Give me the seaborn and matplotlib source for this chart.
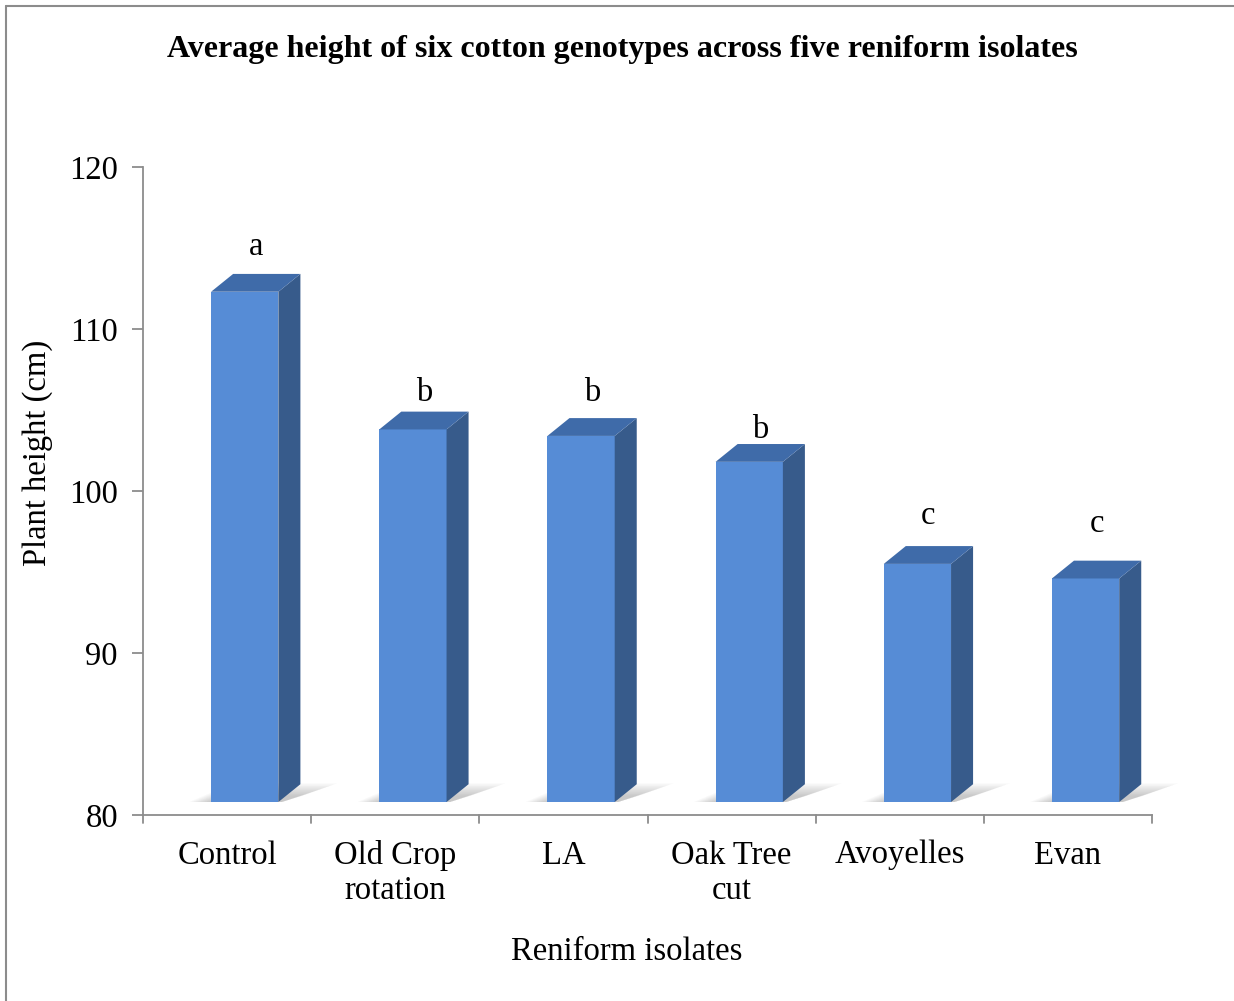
import matplotlib
matplotlib.use("Agg")
import matplotlib.pyplot as plt
from matplotlib.patches import Polygon
from matplotlib.lines import Line2D
import seaborn as sns
import pandas as pd

# Mean plant height (cm) per reniform isolate, with mean-separation letters
isolates = ["Control", "Old Crop\nrotation", "LA", "Oak Tree\ncut", "Avoyelles", "Evan"]
height_cm = [112.3, 103.8, 103.4, 101.8, 95.5, 94.6]
letters = ["a", "b", "b", "b", "c", "c"]
y_ticks = [80, 90, 100, 110, 120]

# where each letter sits (height on the y scale)
letter_y = [115.1, 106.05, 106.05, 103.8, 98.45, 98.0]

df = pd.DataFrame({"isolate": isolates, "height": height_cm})

sns.set_theme(style="white")
plt.rcParams["font.family"] = ["Liberation Serif", "DejaVu Serif"]
plt.rcParams["text.color"] = "black"
plt.rcParams["axes.labelcolor"] = "black"
plt.rcParams["xtick.color"] = "black"
plt.rcParams["ytick.color"] = "black"

FRONT = "#568cd6"
SIDE = "#375b8b"
TOP = "#3f6ba9"
FS = 23.5

fig = plt.figure(figsize=(12.34, 10.01), dpi=100)
ax = fig.add_axes([143 / 1234, 1 - 815 / 1001, (1152 - 143) / 1234, (815 - 167) / 1001])

sns.barplot(data=df, x="isolate", y="height", color=FRONT, width=0.4,
            saturation=1, ax=ax, zorder=3, linewidth=0)

ax.set_ylim(80, 120)
ax.set_xlim(-0.5, len(isolates) - 0.5)

floor = 80.8      # base of the bars sits slightly above the axis floor
shift = 0.105     # front faces are offset to the right within each slot
dx, dy = 0.131, 1.1  # depth of the 3-D extrusion (data units)

for i, (patch, val) in enumerate(zip(ax.patches, height_cm)):
    x0 = patch.get_x() + shift
    w = patch.get_width()
    patch.set_x(x0)
    patch.set_y(floor)
    patch.set_height(val - floor)
    x1 = x0 + w
    # soft floor shadow, built from stacked translucent layers
    n = 10
    for k in range(n):
        s = 1 - k / n
        ax.add_patch(Polygon([(x0 - 0.13 * s, floor), (x1 + 0.02, floor),
                              (x1 + dx + 0.22 * s, floor + dy * (0.3 + 0.75 * s)),
                              (x0 + dx, floor + dy * (0.3 + 0.75 * s))],
                             closed=True, facecolor="#444444", alpha=0.03,
                             edgecolor="none", zorder=2, clip_on=False))
    # side face
    ax.add_patch(Polygon([(x1, floor), (x1 + dx, floor + dy),
                          (x1 + dx, val + dy), (x1, val)],
                         closed=True, facecolor=SIDE, edgecolor="none", zorder=3))
    # top face
    ax.add_patch(Polygon([(x0, val), (x1, val), (x1 + dx, val + dy),
                          (x0 + dx, val + dy)],
                         closed=True, facecolor=TOP, edgecolor="none", zorder=3))
    # letter above the bar
    ax.text(x0 + (w + dx) / 2, letter_y[i], letters[i],
            ha="center", va="center", fontsize=FS, color="black", zorder=4)

# axes styling: only left and bottom lines, grey
for side in ["top", "right"]:
    ax.spines[side].set_visible(False)
for side in ["left", "bottom"]:
    ax.spines[side].set_color("#8c8c8c")
    ax.spines[side].set_linewidth(1.3)

ax.set_yticks(y_ticks)
ax.set_yticklabels([str(t) for t in y_ticks])
ax.tick_params(axis="y", direction="out", length=8, width=1.3, color="#8c8c8c",
               labelsize=FS, pad=10, left=True, labelcolor="black")
ax.tick_params(axis="x", length=0, labelsize=FS, pad=18, bottom=False,
               labelcolor="black")
for lab in ax.get_xticklabels():
    lab.set_linespacing(1.2)

# category boundary ticks on the x axis
for b in [i - 0.5 for i in range(len(isolates) + 1)]:
    ax.add_line(Line2D([b, b], [0, -0.012], transform=ax.get_xaxis_transform(),
                       color="#8c8c8c", linewidth=1.3, clip_on=False, zorder=5))

ax.set_xlabel("Reniform isolates", fontsize=FS)
ax.xaxis.set_label_coords((627 - 143) / 1009, -(952 - 815) / 648)
ax.xaxis.label.set_va("center")
ax.set_ylabel("Plant height (cm)", fontsize=FS)
ax.yaxis.set_label_coords(-(143 - 38) / 1009, (815 - 453) / 648)
ax.yaxis.label.set_va("center")
ax.set_facecolor("white")

fig.text(622 / 1234, 1 - 49 / 1001,
         "Average height of six cotton genotypes across five reniform isolates",
         ha="center", va="center", fontsize=23, fontweight="bold", color="black")

# outer frame: top and left edges
fig.add_artist(Line2D([6 / 1234, 1], [1 - 6 / 1001, 1 - 6 / 1001],
                      transform=fig.transFigure, color="#8c8c8c", linewidth=1.5))
fig.add_artist(Line2D([6 / 1234, 6 / 1234], [0, 1 - 6 / 1001],
                      transform=fig.transFigure, color="#8c8c8c", linewidth=1.5))

fig.savefig("out.png", dpi=100, facecolor="white")
